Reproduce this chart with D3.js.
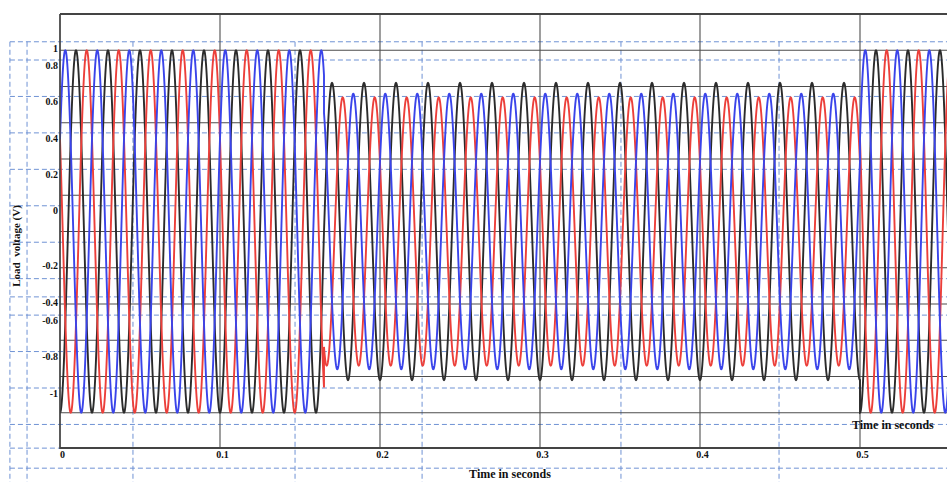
<!DOCTYPE html>
<html>
<head>
<meta charset="utf-8">
<script src="https://cdn.jsdelivr.net/npm/d3@7"></script>
<style>
  html, body { margin: 0; padding: 0; background: #fff; overflow: hidden; }
  svg { display: block; }
  text { font-family: "Liberation Serif", "DejaVu Serif", serif; font-weight: bold; fill: #111; }
</style>
</head>
<body>
<div id="chart"></div>
<script>
// Time axis (s) and voltage axis (pu)
const timeTicks = [0, 0.1, 0.2, 0.3, 0.4, 0.5];
const voltGrid = [1, 0.8, 0.6, 0.4, 0.2, 0, -0.2, -0.4, -0.6, -0.8, -1];
const plotLabelTicks = [1, -0.2, -0.4];
const overlayLabelTicks = [0.8, 0.6, 0.4, 0.2, 0, -0.6, -0.8, -1];

// pasted overlay layer (dashed blue grid)
const overlayGridV = [0.9, 0.8, 0.6, 0.4, 0.2, 0, -0.2, -0.4, -0.5, -0.6, -0.8, -1, -1.2, -1.33, -1.44];
const overlayGridT = [-0.0313, -0.0206, 0.0456, 0.1469, 0.2263, 0.3506, 0.4494];

// three phase load voltage: blue, black, red
const phaseNames = ['Va', 'Vb', 'Vc'];
const phasePeakT = [0.0033, 0.01, 0.0167];   // time of first positive peak
const freqHz = 50;
const segmentStart = [0, 0.165, 0.5];        // normal, sag, recovered
const segmentEnd = [0.165, 0.5, 0.6];
const ampVa = [1, 0.76, 1];
const ampVb = [1, 0.82, 1];
const ampVc = [1, 0.74, 1];

const W = 947, H = 482;
const margin = { left: 60, top: 14 };

const svg = d3.select('#chart').append('svg')
    .attr('width', W)
    .attr('height', H);

// scales
const x = d3.scaleLinear().domain([0, 0.6]).range([margin.left, margin.left + 960]);
const y = d3.scaleLinear().domain([-1.2, 1.2]).range([449, margin.top]);
const yO = d3.scaleLinear().domain([-1, 0.8]).range([388, 60]);

const plotRight = W;
const plotBottom = y(-1.2);

svg.append('clipPath').attr('id', 'plotClip')
    .append('rect')
    .attr('x', margin.left).attr('y', margin.top)
    .attr('width', plotRight - margin.left).attr('height', plotBottom - margin.top);

// dashed overlay grid
const overlay = svg.append('g')
    .attr('stroke', '#6f92d4')
    .attr('stroke-width', 1)
    .attr('stroke-dasharray', '5,3')
    .attr('fill', 'none');

overlay.selectAll('.oh')
    .data(overlayGridV)
    .join('line')
    .attr('class', 'oh')
    .attr('x1', x(overlayGridT[0])).attr('x2', W)
    .attr('y1', d => yO(d)).attr('y2', d => yO(d));

overlay.selectAll('.ov')
    .data(overlayGridT)
    .join('line')
    .attr('class', 'ov')
    .attr('x1', d => x(d)).attr('x2', d => x(d))
    .attr('y1', yO(0.9)).attr('y2', H);

// solid plot grid
const grid = svg.append('g')
    .attr('stroke', '#4d4d4d')
    .attr('stroke-width', 1.1)
    .attr('fill', 'none');

grid.selectAll('.gh')
    .data(voltGrid)
    .join('line')
    .attr('class', 'gh')
    .attr('x1', margin.left).attr('x2', plotRight)
    .attr('y1', d => y(d)).attr('y2', d => y(d));

grid.selectAll('.gv')
    .data(timeTicks)
    .join('line')
    .attr('class', 'gv')
    .attr('x1', d => x(d)).attr('x2', d => x(d))
    .attr('y1', margin.top).attr('y2', plotBottom);

// waveforms
function phaseSamples(p, amps) {
    const pts = [];
    const step = 0.0001;
    for (let s = 0; s < segmentStart.length; s++) {
        for (let t = segmentStart[s]; t <= segmentEnd[s] + 1e-9; t += step) {
            pts.push([t, amps[s] * Math.cos(2 * Math.PI * freqHz * (t - phasePeakT[p]))]);
        }
    }
    return pts;
}

const series = [
    { name: phaseNames[1], amps: ampVb, p: 1, color: '#2b2b2b' },
    { name: phaseNames[2], amps: ampVc, p: 2, color: '#ec3f3a' },
    { name: phaseNames[0], amps: ampVa, p: 0, color: '#3a44ea' }
];

const line = d3.line()
    .x(d => x(d[0]))
    .y(d => y(d[1]));

svg.append('g')
    .attr('clip-path', 'url(#plotClip)')
    .selectAll('path')
    .data(series)
    .join('path')
    .attr('fill', 'none')
    .attr('stroke', d => d.color)
    .attr('stroke-width', 1.9)
    .attr('d', d => line(phaseSamples(d.p, d.amps)));

// frame
const frame = svg.append('g').attr('stroke', '#444').attr('fill', 'none');
frame.append('line')
    .attr('x1', margin.left).attr('x2', W)
    .attr('y1', margin.top).attr('y2', margin.top)
    .attr('stroke-width', 2);
frame.append('line')
    .attr('x1', margin.left).attr('x2', margin.left)
    .attr('y1', margin.top).attr('y2', plotBottom)
    .attr('stroke-width', 1.5);
frame.append('line')
    .attr('x1', margin.left).attr('x2', W)
    .attr('y1', plotBottom - 1).attr('y2', plotBottom - 1)
    .attr('stroke-width', 2.2);

// axes labels
const fmt = d => String(d);

const xAxis = svg.append('g')
    .attr('transform', `translate(2,${plotBottom - 1})`)
    .call(d3.axisBottom(x).tickValues(timeTicks).tickSize(0).tickPadding(3).tickFormat(fmt));

const yAxisPlot = svg.append('g')
    .attr('transform', `translate(${margin.left},-2)`)
    .call(d3.axisLeft(y).tickValues(plotLabelTicks).tickSize(0).tickPadding(2).tickFormat(fmt));

const yAxisOverlay = svg.append('g')
    .attr('transform', `translate(${margin.left},5)`)
    .call(d3.axisLeft(yO).tickValues(overlayLabelTicks).tickSize(0).tickPadding(2).tickFormat(fmt));

[xAxis, yAxisPlot, yAxisOverlay].forEach(g => {
    g.select('.domain').remove();
    g.selectAll('text')
        .attr('font-family', '"Liberation Serif", serif')
        .attr('font-weight', 'bold')
        .attr('font-size', 10)
        .attr('fill', '#111');
});

svg.append('text')
    .attr('x', 510)
    .attr('y', 478)
    .attr('text-anchor', 'middle')
    .attr('font-size', 12)
    .text('Time in seconds');

svg.append('text')
    .attr('x', 852)
    .attr('y', 429)
    .attr('font-size', 12)
    .text('Time in seconds');

svg.append('text')
    .attr('transform', 'translate(20,246) rotate(-90)')
    .attr('text-anchor', 'middle')
    .attr('font-size', 11)
    .style('white-space', 'pre')
    .text('Load  voltage (V)');
</script>
</body>
</html>
